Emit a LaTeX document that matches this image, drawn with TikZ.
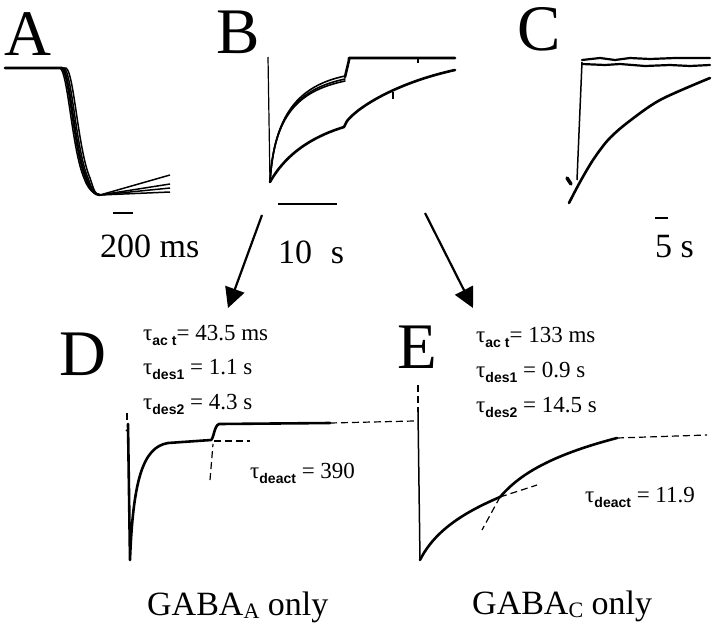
\documentclass[tikz,border=0pt]{standalone}
\usepackage{fontspec}
\setmainfont{Liberation Serif}
\setsansfont{Liberation Sans}
\usetikzlibrary{arrows.meta}

\newcommand{\tsub}[1]{\raisebox{-5pt}{\fontsize{14}{14}\selectfont\sffamily\bfseries #1}}
\newcommand{\gsub}[1]{\raisebox{-3pt}{\fontsize{22}{22}\selectfont #1}}
\newcommand{\panelfont}{\fontsize{65}{65}\selectfont}

\tikzset{
  trace/.style={line width=2.6pt, line join=round, line cap=round},
  thin trace/.style={line width=1.2pt},
  fitline/.style={line width=1.2pt, dash pattern=on 7pt off 4pt},
  scalebar/.style={line width=1.5pt},
  panel/.style={anchor=base west, inner sep=0pt, font=\panelfont},
  unit/.style={anchor=base west, inner sep=0pt, font=\fontsize{34}{34}\selectfont},
  tau/.style={anchor=base west, inner sep=0pt, font=\fontsize{23}{23}\selectfont},
  receptor/.style={anchor=base west, inner sep=0pt, font=\fontsize{34}{34}\selectfont},
  bigarrow/.style={line width=2.2pt, -{Triangle[length=20pt,width=20pt]}}
}

\begin{document}
\begin{tikzpicture}[x=1pt,y=-1pt]
\useasboundingbox (0,0) rectangle (720,627);

% panel letters
\node[panel] (labA) at (4,55) {A};
\node[panel] (labB) at (216,53) {B};
\node[panel] (labC) at (517,50) {C};
\node[panel] (labD) at (59,375) {D};
\node[panel] (labE) at (397,368) {E};

% A: superimposed traces
\foreach \dx/\yend in {0/175, 2/184, 4/192, -2/188}
  \draw[thin trace, line width=1.5pt] (5,68) -- (62+\dx,68) .. controls (70+\dx,72) and (74+\dx,150) .. (86+\dx,178)
     .. controls (90+\dx,190) and (95,195) .. (100,195) -- (170,\yend);
\draw[trace] (5,68) -- (62,68) .. controls (70,72) and (74,150) .. (86,178) .. controls (90,190) and (95,195) .. (100,195);
\draw[scalebar] (113,213) -- (133,213);
\node[unit] (barA) at (100,257) {200 ms};

% B: activation, desensitisation and deactivation
\draw[thin trace] (268,57) -- (270,182);
\foreach \dy in {0,3,5}
  \draw[trace, line width=1.6pt] (270,182) .. controls (274,115) and (298,86+\dy) .. (345,76+\dy);
\draw[trace] (345,77) -- (349,60) -- (349,58) -- (455,58);
\draw[thin trace] (418,58) -- (418,63);
\draw[trace] (270,182) .. controls (288,150) and (318,135) .. (344,127) -- (347,121)
   .. controls (360,105) and (400,82) .. (455,70);
\draw[thin trace] (393,92) -- (393,99);
\draw[scalebar] (278,204) -- (337,204);
\node[unit] (barB) at (278,263) {10\hspace{0.3em} s};

% C
\draw[thin trace, line width=1.5pt] (577,180) -- (582,62);
\draw[trace, line width=2.2pt] (582,60) -- (600,58) -- (615,60) -- (630,58) -- (650,59) -- (675,58) -- (710,58);
\draw[trace, line width=2.2pt] (582,64) -- (605,65) -- (620,64) -- (645,66) -- (670,65) -- (690,66) -- (710,65);
\draw[trace] plot[smooth] coordinates {(569,203) (580,182) (593,160) (608,140) (627,123) (660,100) (710,78)};
\draw[trace, line width=3.5pt] (567,178) -- (571,184);
\draw[scalebar] (655,218) -- (668,218);
\node[unit] (barC) at (655,257) {5 s};

% arrows to the fitted traces
\coordinate (fromL) at (262,215);
\coordinate (toD) at (228,308);
\coordinate (fromR) at (425,213);
\coordinate (toE) at (473,308);
\draw[bigarrow] (fromL) -- (toD);
\draw[bigarrow] (fromR) -- (toE);

% D: GABA_A
\node[tau] (actD) at (143,340) {τ\tsub{ac t}= 43.5 ms};
\node[tau] (des1D) at (143,374) {τ\tsub{des1} = 1.1 s};
\node[tau] (des2D) at (143,409) {τ\tsub{des2} = 4.3 s};
\draw[thin trace] (127,413) -- (127,420);
\draw[thin trace] (129,428) -- (126,431);
\draw[trace] (128,424) -- (130,560) .. controls (133,480) and (143,447) .. (168,443)
   -- (211,440) .. controls (214,438) and (214,426) .. (219,424) -- (330,423);
\draw[fitline] (330,423) -- (414,421);
\draw[fitline] (214,441) -- (250,441);
\draw[fitline] (210,480) -- (213,444);
\node[tau] (deactD) at (250,478) {τ\tsub{deact} = 390};
\node[receptor] (gabaA) at (147,615) {GABA\gsub{A} only};

% E: GABA_C
\node[tau] (actE) at (476,342) {τ\tsub{ac t}= 133 ms};
\node[tau] (des1E) at (476,377) {τ\tsub{des1} = 0.9 s};
\node[tau] (des2E) at (476,412) {τ\tsub{des2} = 14.5 s};
\draw[fitline] (418,385) -- (418,412);
\draw[thin trace, line width=1.5pt] (418,412) -- (420,560);
\draw[trace] (420,560) .. controls (435,530) and (465,512) .. (500,497)
   .. controls (515,480) and (540,458) .. (617,438);
\draw[fitline] (617,438) -- (707,435);
\draw[fitline] (500,497) -- (537,485);
\draw[fitline] (500,497) -- (482,530);
\node[tau] (deactE) at (585,502) {τ\tsub{deact} = 11.9};
\node[receptor] (gabaC) at (472,614) {GABA\gsub{C} only};
\end{tikzpicture}
\end{document}
